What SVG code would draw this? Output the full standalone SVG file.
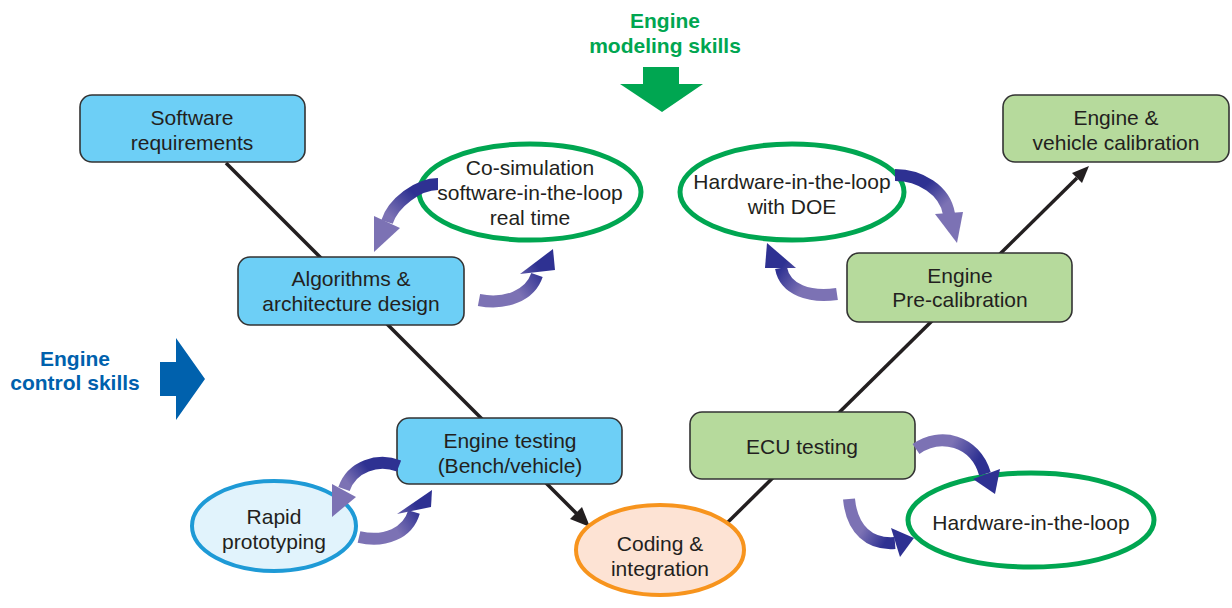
<svg xmlns="http://www.w3.org/2000/svg" width="1232" height="608" viewBox="0 0 1232 608">
<style>
text{font-family:"Liberation Sans",Arial,sans-serif;font-size:21px;fill:#231f20;text-anchor:middle}
.t{font-weight:bold}
.box{stroke:#333;stroke-width:1.6}
.bl{fill:#6dcff6}
.gr{fill:#b6da9c}
.line{stroke:#231f20;stroke-width:3.5;fill:none}
.ca{fill:none;stroke-width:12}
</style>
<defs>
<linearGradient id="gA" gradientUnits="userSpaceOnUse" x1="437" y1="183" x2="374" y2="252"><stop offset="0.25" stop-color="#2e3192"/><stop offset="0.6" stop-color="#7c72b4"/></linearGradient>
<linearGradient id="gB" gradientUnits="userSpaceOnUse" x1="480" y1="300" x2="553" y2="249"><stop offset="0.4" stop-color="#7c72b4"/><stop offset="0.75" stop-color="#2e3192"/></linearGradient>
<linearGradient id="gC" gradientUnits="userSpaceOnUse" x1="398" y1="466" x2="332" y2="517"><stop offset="0.3" stop-color="#2e3192"/><stop offset="0.6" stop-color="#7c72b4"/></linearGradient>
<linearGradient id="gD" gradientUnits="userSpaceOnUse" x1="360" y1="537" x2="432" y2="490"><stop offset="0.4" stop-color="#7c72b4"/><stop offset="0.75" stop-color="#2e3192"/></linearGradient>
<linearGradient id="gE" gradientUnits="userSpaceOnUse" x1="896" y1="175" x2="957" y2="243"><stop offset="0.3" stop-color="#2e3192"/><stop offset="0.6" stop-color="#7c72b4"/></linearGradient>
<linearGradient id="gF" gradientUnits="userSpaceOnUse" x1="836" y1="294" x2="767" y2="243"><stop offset="0.35" stop-color="#7c72b4"/><stop offset="0.7" stop-color="#2e3192"/></linearGradient>
<linearGradient id="gG" gradientUnits="userSpaceOnUse" x1="917" y1="449" x2="995" y2="494"><stop offset="0.3" stop-color="#7c72b4"/><stop offset="0.65" stop-color="#2e3192"/></linearGradient>
<linearGradient id="gH" gradientUnits="userSpaceOnUse" x1="849" y1="500" x2="914" y2="538"><stop offset="0.35" stop-color="#7c72b4"/><stop offset="0.7" stop-color="#2e3192"/></linearGradient>
</defs>

<g id="connectors">
<line class="line" x1="226" y1="163" x2="578" y2="515"/>
<polygon points="590,527 570,519 582,507" fill="#231f20"/>
<line class="line" x1="726" y1="524" x2="1077" y2="178"/>
<polygon points="1089,166 1072,173 1082,183" fill="#231f20"/>
</g>

<g id="skill-modeling">
<text class="t" x="665" y="28" style="fill:#00a651">Engine</text>
<text class="t" x="665" y="53" style="fill:#00a651">modeling skills</text>
<polygon points="643,67 679,67 679,84 703,84 662,112 620,84 643,84" fill="#00a651"/>
</g>
<g id="skill-control">
<text class="t" x="75" y="366" style="fill:#0061ad">Engine</text>
<text class="t" x="75" y="390" style="fill:#0061ad">control skills</text>
<polygon points="160,362 176,362 176,338 205,379 176,420 176,396 160,396" fill="#0061ad"/>
</g>

<g id="software-requirements">
<rect class="box bl" x="80" y="95" width="225" height="67" rx="12"/>
<text x="192" y="125">Software</text><text x="192" y="150">requirements</text>
</g>
<g id="algorithms">
<rect class="box bl" x="238" y="257" width="226" height="68" rx="12"/>
<text x="351" y="286">Algorithms &amp;</text><text x="351" y="311">architecture design</text>
</g>
<g id="engine-testing">
<rect class="box bl" x="397" y="418" width="225" height="66" rx="12"/>
<text x="510" y="448">Engine testing</text><text x="510" y="473">(Bench/vehicle)</text>
</g>
<g id="engine-vehicle-calibration">
<rect class="box gr" x="1003" y="95" width="226" height="67" rx="12"/>
<text x="1116" y="125">Engine &amp;</text><text x="1116" y="150">vehicle calibration</text>
</g>
<g id="pre-calibration">
<rect class="box gr" x="847" y="253" width="225" height="69" rx="12"/>
<text x="960" y="283">Engine</text><text x="960" y="307">Pre-calibration</text>
</g>
<g id="ecu-testing">
<rect class="box gr" x="690" y="412" width="225" height="67" rx="12"/>
<text x="802" y="454">ECU testing</text>
</g>

<g id="co-simulation">
<ellipse cx="530" cy="192" rx="111" ry="48" fill="#fff" stroke="#00a651" stroke-width="5"/>
<text x="530" y="175">Co-simulation</text><text x="530" y="200">software-in-the-loop</text><text x="530" y="225">real time</text>
</g>
<g id="hil-doe">
<ellipse cx="792" cy="192" rx="112" ry="48" fill="#fff" stroke="#00a651" stroke-width="5"/>
<text x="792" y="189">Hardware-in-the-loop</text><text x="792" y="214">with DOE</text>
</g>
<g id="rapid-prototyping">
<ellipse cx="274" cy="526" rx="82" ry="45" fill="#e1f3fc" stroke="#1e9ad6" stroke-width="4"/>
<text x="274" y="524">Rapid</text><text x="274" y="549">prototyping</text>
</g>
<g id="coding-integration">
<ellipse cx="660" cy="550" rx="84" ry="45" fill="#fde3d4" stroke="#f7941d" stroke-width="4"/>
<text x="660" y="551">Coding &amp;</text><text x="660" y="576">integration</text>
</g>
<g id="hil">
<ellipse cx="1031" cy="520" rx="123" ry="47" fill="#fff" stroke="#00a651" stroke-width="5"/>
<text x="1031" y="530">Hardware-in-the-loop</text>
</g>

<g id="cycle-arrows">
<path class="ca" stroke="url(#gA)" d="M438,184 C418,184 393,203 387,222"/>
<polygon fill="url(#gA)" points="374,216 374,252 400,228"/>
<path class="ca" stroke="url(#gB)" d="M479,300 C505,305 530,296 537,275"/>
<polygon fill="url(#gB)" points="520,274 553,249 555,270"/>
<path class="ca" stroke="url(#gC)" d="M399,466 C378,458 352,466 344,489"/>
<polygon fill="url(#gC)" points="332,484 332,517 356,497"/>
<path class="ca" stroke="url(#gD)" d="M359,537 C385,543 408,533 414,512"/>
<polygon fill="url(#gD)" points="397,514 432,490 431,507"/>
<path class="ca" stroke="url(#gE)" d="M895,175 C920,175 945,190 949,214"/>
<polygon fill="url(#gE)" points="935,214 957,243 963,212"/>
<path class="ca" stroke="url(#gF)" d="M837,294 C810,298 785,290 781,268"/>
<polygon fill="url(#gF)" points="796,268 767,243 765,268"/>
<path class="ca" stroke="url(#gG)" d="M916,449 C940,432 975,440 985,474"/>
<polygon fill="url(#gG)" points="973,479 995,494 1000,469"/>
<path class="ca" stroke="url(#gH)" d="M849,499 C852,530 870,545 895,543"/>
<polygon fill="url(#gH)" points="891,528 914,538 900,557"/>
</g>
</svg>
